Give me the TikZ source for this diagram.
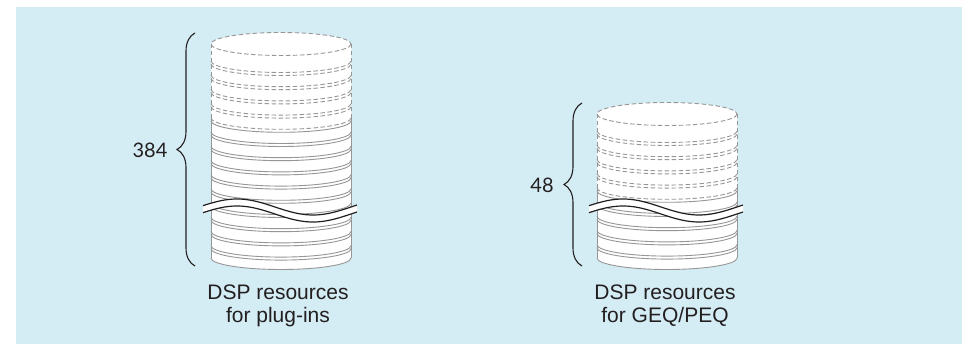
\documentclass[tikz,border=0pt]{standalone}
\usepackage{fontspec}
\setmainfont{Liberation Sans}
\newfontfamily\numfont{Lato}
\usetikzlibrary{decorations.pathreplacing}
\definecolor{panel}{RGB}{212,236,244}
\definecolor{rim}{RGB}{150,150,150}
\definecolor{ink}{RGB}{35,31,32}

% one lower half-ellipse of a drum: #1 style, #2 centre x, #3 left-edge y
\newcommand\drumarc[3]{%
  \draw[#1] (#2-70,#3) arc[start angle=180,end angle=0,x radius=70,y radius=11.5];}

% a striped drum: #1 centre x, #2 top y, #3 dashed stripes, #4 last dashed stripe, #5 solid stripes
\newcommand\drum[5]{%
  \fill[white] (#1-70,#2) -- (#1-70,258)
    arc[start angle=180,end angle=0,x radius=70,y radius=11.5]
    -- (#1+70,#2) arc[start angle=0,end angle=-180,x radius=70,y radius=11.5] -- cycle;
  \draw[rimdash] (#1,#2) ellipse[x radius=70,y radius=11.5];
  \draw[rimdash] (#1-70,#2) -- (#1-70,#4) (#1+70,#2) -- (#1+70,#4);
  \draw[rimline] (#1-70,#4) -- (#1-70,258) (#1+70,#4) -- (#1+70,258);
  \drumarc{rimline}{#1}{258}
  \foreach \y in {#3} {\drumarc{rimdash}{#1}{\y}\drumarc{rimdash}{#1}{\y+3}}
  \drumarc{rimdash}{#1}{#4}
  \drumarc{rimline}{#1}{#4+3}
  \foreach \y in {#5} {\drumarc{rimline}{#1}{\y}\drumarc{rimline}{#1}{\y+3}}
}

% torn band across a drum: #1 centre x
\newcommand\tearband[1]{%
  \fill[white] plot[domain=#1-78:#1+76,samples=60] (\x,{207-8*cos((\x-(#1-44))*2.36842)})
    -- plot[domain=#1+76:#1-78,samples=60] (\x,{214-8*cos((\x-(#1-44))*2.36842)}) -- cycle;
  \draw[wave] plot[domain=#1-78:#1+76,samples=60] (\x,{207-8*cos((\x-(#1-44))*2.36842)});
  \draw[wave] plot[domain=#1-78:#1+76,samples=60] (\x,{214-8*cos((\x-(#1-44))*2.36842)});
}

\begin{document}
\begin{tikzpicture}[x=1pt,y=-1pt,
  rimline/.style={draw=rim,line width=0.9pt},
  rimdash/.style={rimline,dash pattern=on 4.5pt off 2.5pt},
  bracket/.style={draw=ink,line width=1.1pt,decorate,decoration={brace,amplitude=18pt}},
  wave/.style={draw=ink,line width=1.2pt},
  count/.style={font=\numfont\fontsize{20}{22}\selectfont,text=ink},
  caption/.style={font=\fontsize{21}{23}\selectfont,align=center,text=ink,anchor=base,inner sep=0pt}]

\fill[white] (0,0) rectangle (967,344);
\fill[panel] (16,7) rectangle (962,344);
\useasboundingbox (0,0) rectangle (967,344);

% plug-in resources
\drum{281}{44}{61,75.2,89.4,103.6}{117.8}{132,146.2,160.4,174.6,188.8,203,217.2,231.4,245.6}
\tearband{281}

% GEQ/PEQ resources
\drum{667}{114}{131,145.2,159.4,173.6}{187.8}{202,216.2,230.4,244.6}
\tearband{667}

% braces and counts
\coordinate (bA1) at (195,266);
\coordinate (bA2) at (195,33);
\draw[bracket] (bA1) -- (bA2);
\coordinate (bB1) at (582,266);
\coordinate (bB2) at (582,103);
\draw[bracket] (bB1) -- (bB2);

\node[count] (n384) at (150,150) {384};
\node[count] (n48) at (542,185) {48};

\node[caption] (capA) at (278,323) {DSP resources\\for plug-ins};
\node[caption] (capB) at (665,323) {DSP resources\\for GEQ/PEQ};
\end{tikzpicture}
\end{document}
